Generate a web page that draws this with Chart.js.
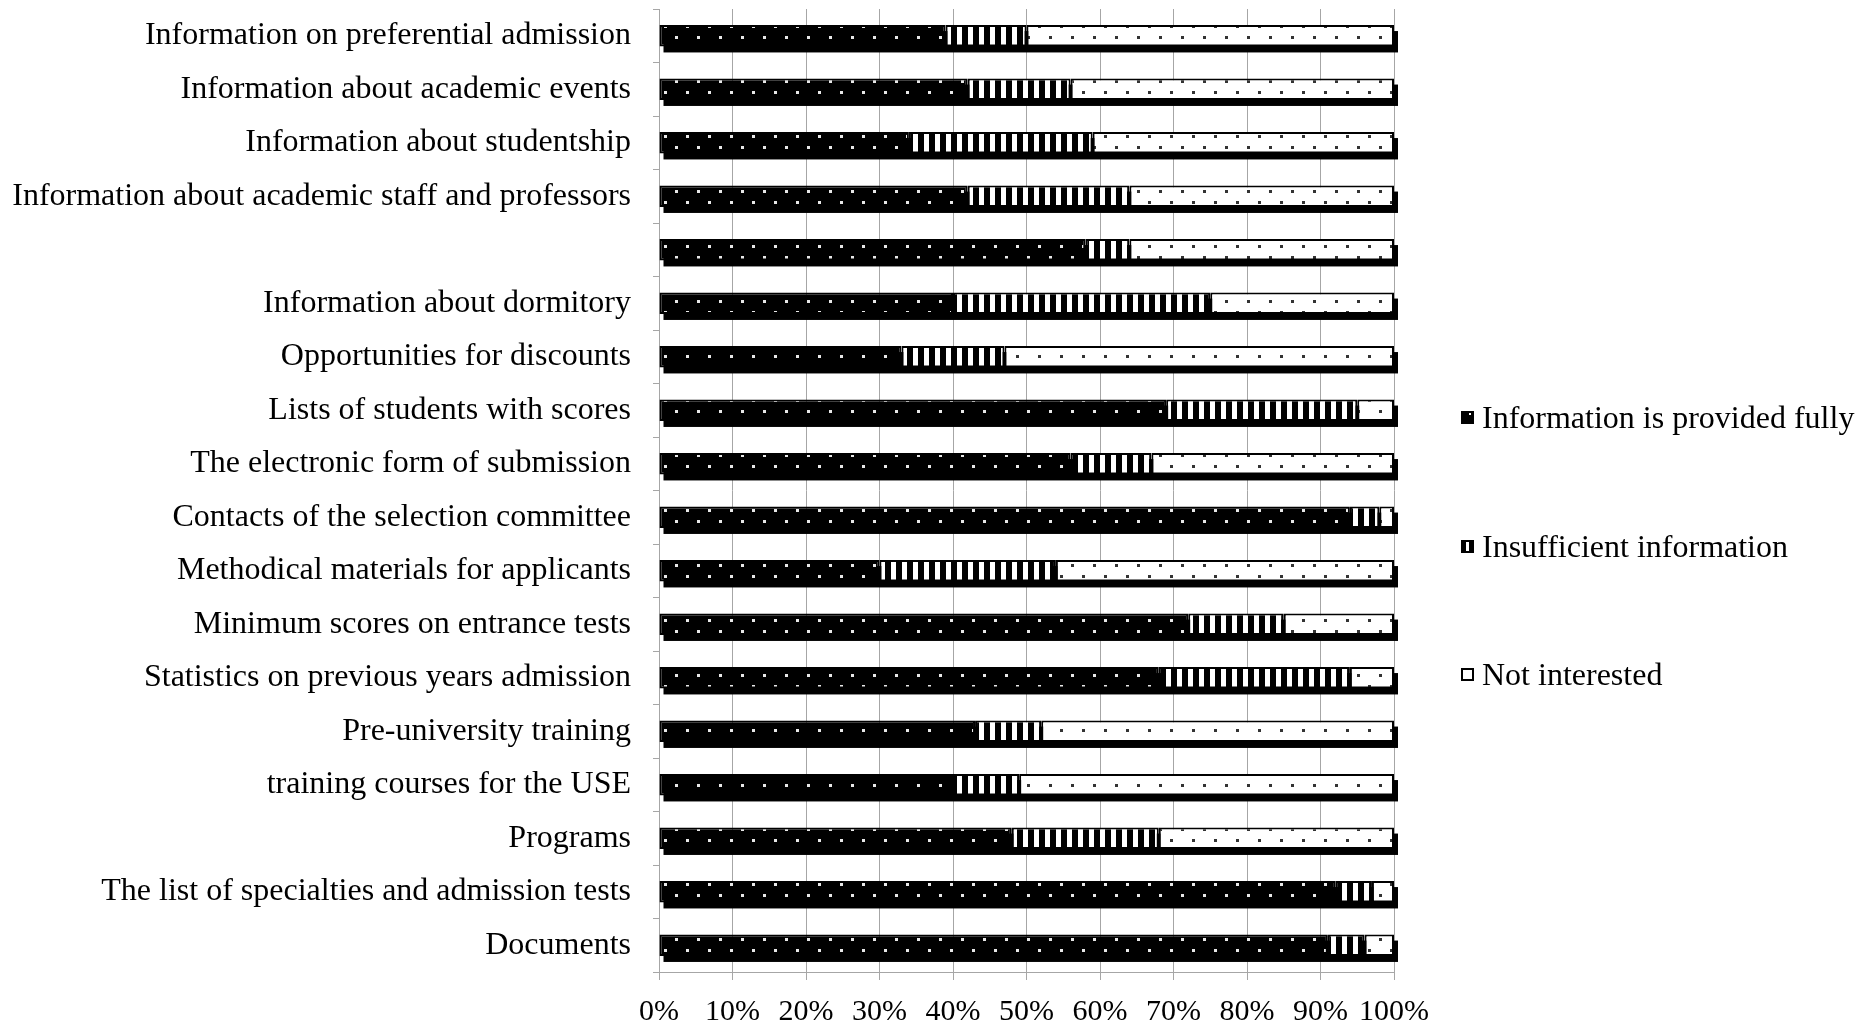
<!DOCTYPE html>
<html>
<head>
<meta charset="utf-8">
<script src="https://cdn.jsdelivr.net/npm/chart.js@4.4.1/dist/chart.umd.min.js"></script>
<style>
  html, body { margin: 0; padding: 0; background: #fff; }
  #wrap { position: relative; width: 1860px; height: 1022px; }
  #chart { position: absolute; left: 0; top: 0; }
  .legend-item { position: absolute; left: 1461px; height: 36px; display: flex; align-items: center;
    font-family: 'Liberation Serif', 'Times New Roman', serif; font-size: 32px; color: #000; white-space: nowrap; }
  .legend-box { width: 13px; height: 13px; box-sizing: border-box; margin-right: 8px; }
</style>
</head>
<body>
<div id="wrap">
  <canvas id="chart" width="1860" height="1022"></canvas>
  <div id="legend"></div>
</div>
<script>
// Survey items, top to bottom
const categories = [
  'Information on preferential admission',
  'Information about academic events',
  'Information about studentship',
  'Information about academic staff and professors',
  '',
  'Information about dormitory',
  'Opportunities for discounts',
  'Lists of students with scores',
  'The electronic form of submission',
  'Contacts of the selection committee',
  'Methodical materials for applicants',
  'Minimum scores on entrance tests',
  'Statistics on previous years admission',
  'Pre-university training',
  'training courses for the USE',
  'Programs',
  'The list of specialties and admission tests',
  'Documents'
];

// Share of respondents, %
const providedFully = [39, 42, 34, 42, 58, 40, 33, 69, 56, 94, 30, 72, 68, 43, 40, 48, 92, 91];
const insufficient  = [11, 14, 25, 22, 6, 35, 14, 26, 11, 4, 24, 13, 26, 9, 9, 20, 5, 5];
const notInterested = [50, 44, 41, 36, 36, 25, 53, 5, 33, 2, 46, 15, 6, 48, 51, 32, 3, 4];

const seriesNames = ['Information is provided fully', 'Insufficient information', 'Not interested'];

// Fill patterns
function makePattern(draw, w, h) {
  const c = document.createElement('canvas');
  c.width = w; c.height = h;
  draw(c.getContext('2d'), w, h);
  return c.getContext('2d').createPattern(c, 'repeat');
}
const ctxMain = document.getElementById('chart').getContext('2d');
const blackDots = makePattern((g, w, h) => {
  g.fillStyle = '#000'; g.fillRect(0, 0, w, h);
  g.fillStyle = '#e8e8e8';
  g.fillRect(4, 3, 3, 3); g.fillRect(15, 14, 3, 3);
}, 22, 22);
const stripes = makePattern((g, w, h) => {
  g.fillStyle = '#000'; g.fillRect(0, 0, w, h);
  g.fillStyle = '#fff'; g.fillRect(0, 0, 5, h);
}, 11, 11);
const whiteDots = makePattern((g, w, h) => {
  g.fillStyle = '#fff'; g.fillRect(0, 0, w, h);
  g.fillStyle = '#333';
  g.fillRect(4, 3, 3, 3); g.fillRect(15, 14, 3, 3);
}, 22, 22);

// Offset black shadow behind every stacked bar
const barShadow = {
  id: 'barShadow',
  beforeDatasetsDraw(chart) {
    const c = chart.ctx;
    const first = chart.getDatasetMeta(0).data;
    const last = chart.getDatasetMeta(chart.data.datasets.length - 1).data;
    c.save();
    c.fillStyle = '#000';
    first.forEach((el, i) => {
      const end = last[i];
      const h = el.height;
      c.fillRect(el.base + 4, el.y - h / 2 + 6, end.x - el.base, h);
    });
    c.restore();
  }
};

const fontFamily = "'Liberation Serif', 'Times New Roman', serif";
const gridGray = '#a6a6a6';

new Chart(ctxMain, {
  type: 'bar',
  data: {
    labels: categories,
    datasets: [
      { label: seriesNames[0], data: providedFully, backgroundColor: blackDots },
      { label: seriesNames[1], data: insufficient, backgroundColor: stripes },
      { label: seriesNames[2], data: notInterested, backgroundColor: whiteDots }
    ].map(d => Object.assign(d, {
      borderColor: '#000', borderWidth: 2, borderSkipped: false,
      barPercentage: 0.8, categoryPercentage: 0.5
    }))
  },
  options: {
    indexAxis: 'y',
    responsive: false,
    animation: false,
    layout: { padding: { top: 9, right: 466, left: 0, bottom: 0 } },
    plugins: { legend: { display: false }, tooltip: { enabled: false } },
    scales: {
      x: {
        stacked: true, min: 0, max: 100,
        ticks: { stepSize: 10, color: '#000', font: { family: fontFamily, size: 30 }, padding: 14,
          maxRotation: 0, minRotation: 0, autoSkip: false, callback: v => v + '%' },
        grid: { color: gridGray, lineWidth: 1, drawTicks: true, tickLength: 8 },
        border: { color: gridGray, width: 1 },
        afterFit: s => { s.height = 50; s.paddingLeft = 0; s.paddingRight = 0; }
      },
      y: {
        stacked: true,
        ticks: { color: '#000', font: { family: fontFamily, size: 32 }, padding: 22, autoSkip: false },
        grid: { color: gridGray, lineWidth: 1, drawOnChartArea: false, drawTicks: true, tickLength: 6 },
        border: { color: gridGray, width: 1 },
        afterFit: s => { s.width = 659; s.paddingTop = 0; s.paddingBottom = 0; }
      }
    }
  },
  plugins: [barShadow]
});

// Legend
const legendTops = [399, 528, 656];
const legendBoxStyles = [
  'background:#000; background-image: radial-gradient(circle at 9px 3px, #fff 1px, transparent 1.5px);',
  'border:2px solid #000; background: repeating-linear-gradient(90deg, #000 0 3px, #fff 3px 6px);',
  'border:2px solid #000; background:#fff;'
];
const legend = document.getElementById('legend');
seriesNames.forEach((name, i) => {
  const item = document.createElement('div');
  item.className = 'legend-item';
  item.style.top = legendTops[i] + 'px';
  const box = document.createElement('span');
  box.className = 'legend-box';
  box.style.cssText = legendBoxStyles[i];
  item.appendChild(box);
  item.appendChild(document.createTextNode(name));
  legend.appendChild(item);
});
</script>
</body>
</html>
